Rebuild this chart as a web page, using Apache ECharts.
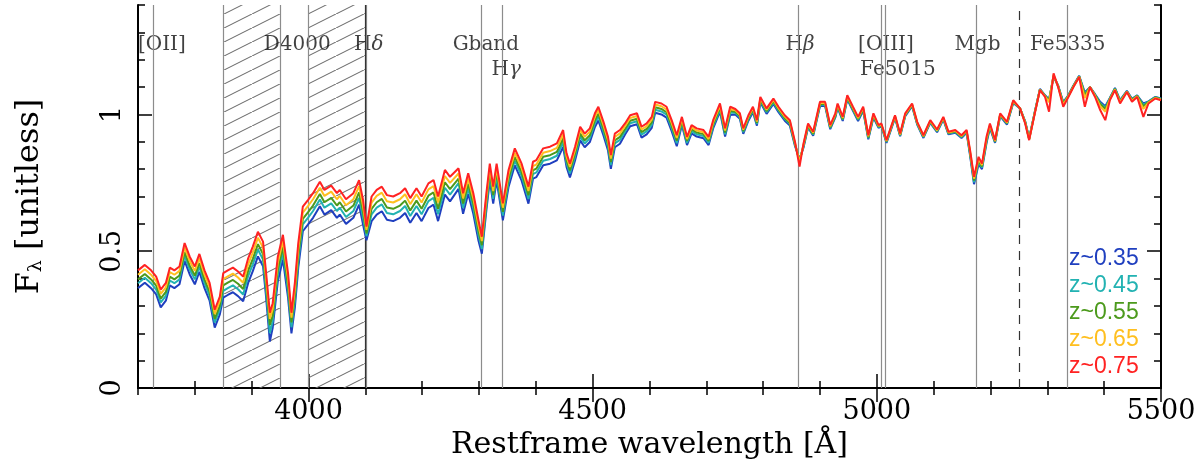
<!DOCTYPE html>
<html>
<head>
<meta charset="utf-8">
<script src="https://cdn.jsdelivr.net/npm/echarts@6/dist/echarts.min.js"></script>
<style>
  html, body { margin: 0; padding: 0; background: #fff; }
  #spec { width: 1199px; height: 465px; }
</style>
</head>
<body>
<div id="spec"></div>
<script>
// restframe wavelength grid [A]
var wavelength = [
  3700,3712,3723,3732,3740,3749,3756,3764,3773,3782,3791,3800,3808,3817,3826,3835,3844,
  3850,3858,3867,3876,3885,3894,3902,3911,3920,3925,3932,3937,3946,3955,3964,3970,3976,3982,3990,3999,
  4008,4020,4028,4040,4050,4055,4066,4079,4089,4096,4102,4111,4120,4129,4138,4149,4161,4170,4179,4190,4199,4211,4220,4228,4240,4249,
  4264,4272,4281,4290,4299,
  4305,4313,4319,4325,4331,4342,4352,4363,4375,4387,4395,4401,4413,4425,4437,4448,
  4454,4460,4469,4478,4486,4495,4504,4510,4519,4527,4532,4539,4548,
  4557,4566,4578,4586,4595,4604,4610,4621,4630,4639,4648,
  4657,4666,4674,4683,4695,4704,4712,4724,4733,4742,
  4751,4759,4765,4774,4782,4789,4795,4806,4818,4827,4838,4847,
  4856,4864,4871,4879,4888,4900,4909,4918,4927,4931,4940,4948,4958,4967,4976,4985,4994,
  5003,5008,5017,5026,5032,5041,5050,5062,5071,5082,5094,5106,5117,5126,5138,5149,5158,5164,5171,5179,5185,5193,5199,5208,5217,5229,5240,
  5252,5261,5268,5278,5287,5296,5303,5311,5319,5328,5337,5346,5356,5366,5375,5384,5393,5402,5410,5419,5428,5440,5449,5458,5469,5478,5490,5500
];

var fluxZ075 = [
  .430,.450,.430,.407,.360,.384,.440,.430,.444,.530,.480,.444,.490,.430,.384,.286,.334,
  .420,.430,.440,.426,.407,.475,.517,.571,.535,.430,.275,.310,.480,.560,.420,.275,.384,.530,.663,.687,
  .712,.754,.724,.740,.712,.724,.690,.712,.760,.687,.590,.700,.724,.736,.705,.700,.712,.730,.694,.730,.700,.748,.760,.700,.797,.772,
  .803,.712,.785,.712,.614,
  .553,.712,.820,.736,.820,.675,.797,.876,.820,.736,.827,.833,.876,.882,.894,.943,
  .858,.820,.882,.955,.930,.949,1.004,1.028,.973,.918,.851,.930,.943,
  .967,.997,1.004,.955,.967,.991,1.046,1.040,1.028,.979,.924,
  .991,.918,.961,.949,.943,.918,.979,1.040,.949,1.028,
  1.020,1.004,.949,.997,1.028,.979,1.064,1.022,1.058,1.028,.997,.979,
  .900,.809,.894,.967,.937,1.046,1.046,.961,1.004,1.040,.991,1.070,1.028,.991,1.028,.924,1.004,
  .961,.967,.906,.961,.997,.930,1.004,1.040,.973,.924,.979,.945,.991,.937,.943,.924,.943,.870,.772,.845,.820,.918,.967,.906,1.004,.973,1.052,
  1.022,.967,.906,1.004,1.089,1.064,1.010,1.150,1.100,1.028,1.064,1.100,1.137,1.028,1.100,1.064,1.016,.979,1.052,1.089,1.040,1.082,1.046,1.064,.991,1.040,1.058,1.052
];

var fluxZ065 = [
  .414,.434,.414,.391,.344,.368,.424,.414,.428,.514,.464,.428,.474,.414,.368,.270,.318,
  .398,.408,.418,.404,.385,.453,.495,.549,.513,.408,.253,.288,.458,.538,.398,.257,.362,.508,.641,.665,
  .690,.732,.702,.718,.690,.702,.668,.690,.738,.665,.578,.678,.702,.714,.683,.678,.690,.708,.672,.708,.678,.726,.738,.678,.775,.750,
  .784,.693,.766,.693,.595,
  .537,.696,.804,.720,.804,.659,.781,.860,.804,.720,.811,.817,.860,.866,.878,.927,
  .846,.808,.870,.943,.918,.937,.992,1.016,.961,.906,.839,.918,.931,
  .957,.987,.994,.945,.957,.981,1.036,1.030,1.018,.969,.914,
  .983,.910,.953,.941,.935,.910,.971,1.032,.941,1.020,
  1.015,.999,.944,.992,1.023,.974,1.059,1.017,1.053,1.023,.992,.974,
  .896,.825,.890,.963,.933,1.042,1.042,.957,1.000,1.036,.987,1.066,1.024,.987,1.024,.920,1.000,
  .958,.964,.903,.958,.994,.927,1.001,1.037,.970,.921,.976,.942,.988,.934,.940,.921,.940,.865,.765,.838,.815,.912,.962,.903,1.001,.970,1.049,
  1.022,.970,.908,1.006,1.090,1.066,1.045,1.145,1.102,1.035,1.066,1.102,1.138,1.060,1.100,1.068,1.030,1.010,1.055,1.091,1.045,1.083,1.050,1.066,1.020,1.043,1.060,1.054
];

var fluxZ055 = [
  .397,.417,.397,.374,.327,.351,.407,.397,.411,.497,.447,.411,.457,.397,.351,.253,.301,
  .375,.385,.395,.381,.362,.430,.472,.526,.490,.385,.230,.265,.435,.515,.375,.240,.339,.485,.618,.642,
  .667,.709,.679,.695,.667,.679,.645,.667,.715,.642,.565,.655,.679,.691,.660,.655,.667,.685,.649,.685,.655,.703,.715,.655,.752,.727,
  .765,.674,.747,.674,.576,
  .522,.681,.789,.705,.789,.644,.766,.845,.789,.705,.796,.802,.845,.851,.863,.912,
  .833,.795,.857,.930,.905,.924,.979,1.003,.948,.893,.826,.905,.918,
  .947,.977,.984,.935,.947,.971,1.026,1.020,1.008,.959,.904,
  .976,.903,.946,.934,.928,.903,.964,1.025,.934,1.013,
  1.010,.994,.939,.987,1.018,.969,1.054,1.012,1.048,1.018,.987,.969,
  .892,.830,.886,.959,.929,1.038,1.038,.953,.996,1.032,.983,1.062,1.020,.983,1.020,.916,.996,
  .956,.962,.901,.956,.992,.925,.999,1.035,.968,.919,.974,.940,.986,.932,.938,.919,.938,.860,.758,.831,.810,.906,.958,.901,.999,.968,1.047,
  1.022,.972,.910,1.008,1.091,1.068,1.050,1.142,1.104,1.040,1.068,1.104,1.139,1.070,1.100,1.070,1.038,1.020,1.057,1.093,1.048,1.084,1.053,1.068,1.030,1.045,1.062,1.056
];

var fluxZ045 = [
  .383,.403,.383,.360,.313,.337,.393,.383,.397,.483,.433,.397,.443,.383,.337,.239,.287,
  .355,.365,.375,.361,.342,.410,.452,.506,.470,.365,.200,.245,.415,.495,.355,.222,.319,.465,.598,.622,
  .647,.689,.659,.675,.647,.659,.625,.647,.695,.622,.555,.635,.659,.671,.640,.635,.647,.665,.629,.665,.635,.683,.695,.635,.732,.707,
  .749,.658,.731,.658,.560,
  .508,.667,.775,.691,.775,.630,.752,.831,.775,.691,.782,.788,.831,.837,.849,.898,
  .822,.784,.846,.919,.894,.913,.968,.992,.937,.882,.815,.894,.907,
  .938,.968,.975,.926,.938,.962,1.017,1.011,.999,.950,.895,
  .969,.896,.939,.927,.921,.896,.957,1.018,.927,1.006,
  1.006,.990,.935,.983,1.014,.965,1.050,1.008,1.044,1.014,.983,.965,
  .889,.833,.883,.956,.926,1.035,1.035,.950,.993,1.029,.980,1.059,1.017,.980,1.017,.913,.993,
  .954,.960,.899,.954,.990,.923,.997,1.033,.966,.917,.972,.938,.984,.930,.936,.917,.936,.856,.752,.825,.806,.901,.955,.899,.997,.966,1.045,
  1.022,.973,.911,1.009,1.092,1.069,1.052,1.140,1.105,1.042,1.069,1.105,1.140,1.075,1.100,1.072,1.042,1.025,1.058,1.095,1.050,1.085,1.055,1.069,1.035,1.047,1.063,1.057
];

var fluxZ035 = [
  .365,.385,.365,.342,.295,.319,.375,.365,.379,.465,.415,.379,.425,.365,.319,.221,.269,
  .330,.340,.350,.336,.317,.385,.427,.481,.445,.340,.170,.220,.390,.470,.330,.200,.294,.440,.573,.597,
  .622,.664,.634,.650,.622,.634,.600,.622,.670,.597,.540,.610,.634,.646,.615,.610,.622,.640,.604,.640,.610,.658,.670,.610,.707,.682,
  .728,.637,.710,.637,.539,
  .491,.650,.758,.674,.758,.613,.735,.814,.758,.674,.765,.771,.814,.820,.832,.881,
  .808,.770,.832,.905,.880,.899,.954,.978,.923,.868,.801,.880,.893,
  .927,.957,.964,.915,.927,.951,1.006,1.000,.988,.939,.884,
  .961,.888,.931,.919,.913,.888,.949,1.010,.919,.998,
  1.000,.984,.929,.977,1.008,.959,1.044,1.002,1.038,1.008,.977,.959,
  .885,.836,.879,.952,.922,1.031,1.031,.946,.989,1.025,.976,1.055,1.013,.976,1.013,.909,.989,
  .951,.957,.896,.951,.987,.920,.994,1.030,.963,.914,.969,.935,.981,.927,.933,.914,.933,.850,.745,.818,.800,.895,.950,.896,.994,.963,1.042,
  1.022,.975,.912,1.010,1.093,1.070,1.055,1.138,1.106,1.045,1.070,1.106,1.141,1.080,1.100,1.074,1.046,1.030,1.060,1.097,1.052,1.086,1.057,1.070,1.040,1.048,1.064,1.058
];

var seriesNames = ['z~0.35', 'z~0.45', 'z~0.55', 'z~0.65', 'z~0.75'];
var seriesColors = ['#1f3fbf', '#22b2b2', '#4c9a1c', '#ffbf1f', '#ff2222'];
var fluxes = [fluxZ035, fluxZ045, fluxZ055, fluxZ065, fluxZ075];

// index features
var featureLines = [3727, 4102, 4304, 4341, 4861, 5007, 5015, 5175, 5335];
var bandEdges = [3850, 3950, 4000];
var bandEdgeDark = 4100;
var hatchBands = [[3850, 3950], [4000, 4100]];
var dashedLine = 5250;
var featureLabels = [
  ['[OII]', 3742, 1.255],
  ['D4000', 3980, 1.255],
  ['Hδ', 4106, 1.255],
  ['Gband', 4312, 1.255],
  ['Hγ', 4348, 1.162],
  ['Hβ', 4865, 1.255],
  ['[OIII]', 5016, 1.255],
  ['Fe5015', 5037, 1.162],
  ['Mgb', 5177, 1.255],
  ['Fe5335', 5336, 1.255]
];

var xMajorTicks = [4000, 4500, 5000, 5500];
var yMajorTicks = [0, 0.5, 1];

// hatch pattern for the D4000 windows
var hatch = document.createElement('canvas');
hatch.width = 28;
hatch.height = 14;
var hc = hatch.getContext('2d');
hc.strokeStyle = '#707070';
hc.lineWidth = 1.1;
hc.beginPath();
hc.moveTo(-2, 15);
hc.lineTo(30, -1);
hc.stroke();

var serif = 'DejaVu Serif';
var tickStyle = {color: '#000', width: 1.5};

function xAx(pos, major, labels) {
    var a = {
        type: 'value', min: 3700, max: 5500, interval: 100, position: pos,
        axisLine: {show: !major, lineStyle: {color: '#000', width: 2}},
        axisTick: {inside: true, length: major ? 14 : 7, lineStyle: tickStyle},
        axisLabel: {show: false},
        splitLine: {show: false}
    };
    if (major) a.axisTick.customValues = xMajorTicks;
    if (labels) {
        a.axisLabel = {show: true, customValues: xMajorTicks, margin: 10,
            fontFamily: serif, fontSize: 27, color: '#000',
            formatter: function (v) { return String(v); }};
        a.name = 'Restframe wavelength [Å]';
        a.nameLocation = 'middle';
        a.nameGap = 41;
        a.nameTextStyle = {fontFamily: serif, fontSize: 30, color: '#000'};
    }
    return a;
}

function yAx(pos, major, labels) {
    var a = {
        type: 'value', min: 0, max: 1.4, interval: 0.1, position: pos,
        axisLine: {show: !major, lineStyle: {color: '#000', width: 2}},
        axisTick: {inside: true, length: major ? 14 : 7, lineStyle: tickStyle},
        axisLabel: {show: false},
        splitLine: {show: false}
    };
    if (major) a.axisTick.customValues = yMajorTicks;
    if (labels) {
        a.axisLabel = {show: true, customValues: yMajorTicks, rotate: 90, margin: 12,
            fontFamily: serif, fontSize: 27, color: '#000',
            formatter: function (v) { return String(v); }};
        a.name = 'F{sub|λ} [unitless]';
        a.nameLocation = 'middle';
        a.nameRotate = 90;
        a.nameGap = 92;
        a.nameTextStyle = {fontFamily: serif, fontSize: 32, color: '#000',
            rich: {sub: {fontFamily: serif, fontSize: 19, color: '#000', verticalAlign: 'bottom'}}};
    }
    return a;
}

var series = seriesNames.map(function (name, i) {
    return {
        name: name,
        type: 'line',
        showSymbol: false,
        symbol: 'none',
        z: 3 + i,
        data: wavelength.map(function (w, j) { return [w, fluxes[i][j]]; }),
        lineStyle: {color: seriesColors[i], width: 2},
        itemStyle: {color: seriesColors[i]}
    };
});

var refLines = featureLines.map(function (w) {
    return {xAxis: w, lineStyle: {color: '#8c8c8c', width: 1.2, type: 'solid'}};
}).concat(bandEdges.map(function (w) {
    return {xAxis: w, lineStyle: {color: '#8c8c8c', width: 1.2, type: 'solid'}};
})).concat([
    {xAxis: bandEdgeDark, lineStyle: {color: '#333', width: 1.2, type: 'solid'}},
    {xAxis: dashedLine, lineStyle: {color: '#333', width: 1.2, type: [9, 7]}}
]);

series.push({
    name: 'features',
    type: 'scatter',
    z: 1,
    silent: true,
    symbolSize: 1,
    itemStyle: {color: 'rgba(0,0,0,0)'},
    data: featureLabels.map(function (f) { return {name: f[0], value: [f[1], f[2]]}; }),
    label: {
        show: true, position: 'inside', fontFamily: serif, fontSize: 20, color: '#111',
        formatter: function (p) { return p.name.replace(/([δγβ])/, '{i|$1}'); },
        rich: {i: {fontFamily: serif, fontStyle: 'italic', fontSize: 20, color: '#111'}}
    },
    markArea: {
        silent: true,
        z: 1,
        itemStyle: {color: {image: hatch, repeat: 'repeat'}},
        data: hatchBands.map(function (b) { return [{xAxis: b[0]}, {xAxis: b[1]}]; })
    },
    markLine: {
        silent: true,
        z: 2,
        symbol: ['none', 'none'],
        label: {show: false},
        data: refLines
    }
});

var chart = echarts.init(document.getElementById('spec'));
chart.setOption({
    animation: false,
    backgroundColor: '#fff',
    grid: {left: 138, right: 38, top: 5, bottom: 77},
    legend: {
        orient: 'vertical', left: 1059, top: 242,
        icon: 'none', itemWidth: 0, itemHeight: 20, itemGap: 4,
        selectedMode: false,
        textStyle: {fontFamily: 'Liberation Sans', fontSize: 23},
        data: seriesNames.map(function (n, i) {
            return {name: n, textStyle: {color: seriesColors[i]}};
        })
    },
    xAxis: [xAx('bottom', false, true), xAx('bottom', true, false), xAx('top', false, false), xAx('top', true, false)],
    yAxis: [yAx('left', false, true), yAx('left', true, false), yAx('right', false, false), yAx('right', true, false)],
    series: series
});
</script>
</body>
</html>
